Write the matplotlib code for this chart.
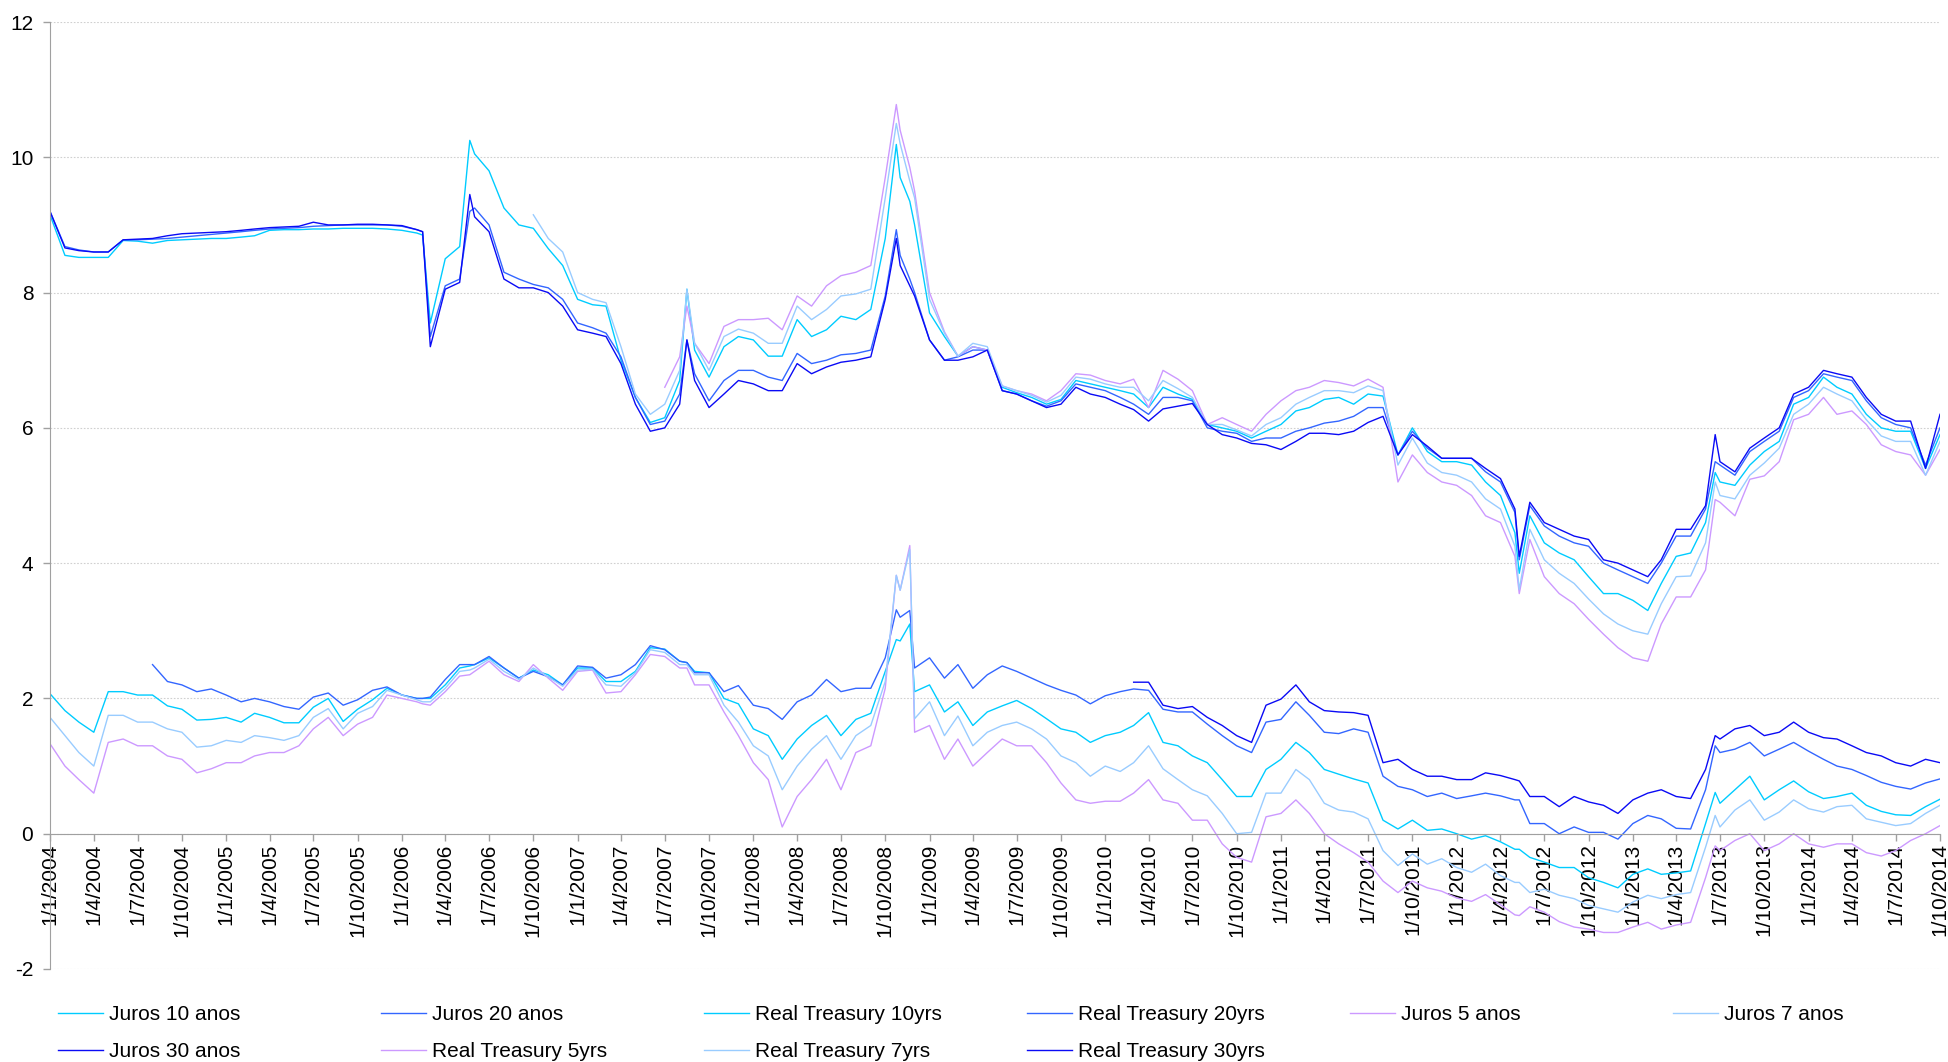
import numpy as np
import pandas as pd
import matplotlib
matplotlib.use("Agg")
import matplotlib.pyplot as plt
import matplotlib.dates as mdates
from matplotlib.ticker import FuncFormatter, MultipleLocator

nan = np.nan

# ---------------- data ----------------
# monthly readings, first of each month, Jan 2004 .. Oct 2014
month_starts = pd.date_range("2004-01-01", "2014-10-01", freq="MS")
# extra readings at short-lived spikes / dips
event_dates = pd.to_datetime(["2006-02-13", "2006-05-22", "2007-08-16", "2008-10-24",
                              "2008-11-21", "2012-05-10", "2013-06-21"])

juros_30 = [9.20, 8.66, 8.62, 8.60, 8.60, 8.78, 8.79, 8.80, 8.84, 8.87, 8.88, 8.89,
            8.90, 8.92, 8.94, 8.96, 8.97, 8.98, 9.04, 9.00, 9.00, 9.01, 9.01, 9.00,
            8.99, 8.93, 7.20, 8.05, 8.15, 9.12, 8.90, 8.20, 8.07, 8.07, 8.00, 7.80,
            7.45, 7.40, 7.35, 6.95, 6.35, 5.95, 6.00, 6.35, 6.70, 6.30, 6.50, 6.70,
            6.65, 6.55, 6.55, 6.95, 6.80, 6.90, 6.97, 7.00, 7.05, 7.90, 8.40, 7.95,
            7.30, 7.00, 7.00, 7.05, 7.15, 6.55, 6.50, 6.40, 6.30, 6.35, 6.60, 6.50,
            6.45, 6.35, 6.27, 6.10, 6.28, 6.32, 6.36, 6.05, 5.90, 5.85, 5.77, 5.75,
            5.68, 5.80, 5.92, 5.92, 5.90, 5.95, 6.08, 6.17, 5.60, 5.90, 5.73, 5.55,
            5.55, 5.55, 5.40, 5.25, 4.80, 4.90, 4.60, 4.50, 4.40, 4.35, 4.05, 4.00,
            3.90, 3.80, 4.05, 4.50, 4.50, 4.85, 5.50, 5.35, 5.70, 5.85, 6.00, 6.50,
            6.60, 6.85, 6.80, 6.75, 6.45, 6.20, 6.10, 6.10, 5.40, 6.20]
juros_30_ev = [8.90, 9.45, 7.30, 8.80, 8.10, 4.10, 5.90]

juros_20 = [9.20, 8.68, 8.63, 8.60, 8.60, 8.78, 8.78, 8.79, 8.80, 8.82, 8.84, 8.86,
            8.88, 8.90, 8.92, 8.94, 8.95, 8.96, 8.98, 8.99, 9.00, 9.00, 9.00, 9.00,
            8.98, 8.93, 7.35, 8.10, 8.20, 9.25, 9.00, 8.30, 8.20, 8.12, 8.07, 7.90,
            7.55, 7.48, 7.40, 7.05, 6.45, 6.05, 6.10, 6.50, 6.80, 6.40, 6.70, 6.85,
            6.85, 6.75, 6.70, 7.10, 6.95, 7.00, 7.08, 7.10, 7.15, 7.95, 8.55, 8.00,
            7.30, 7.00, 7.05, 7.15, 7.15, 6.55, 6.50, 6.40, 6.32, 6.40, 6.65, 6.60,
            6.55, 6.45, 6.35, 6.20, 6.45, 6.45, 6.40, 6.00, 5.95, 5.92, 5.80, 5.85,
            5.85, 5.95, 6.00, 6.07, 6.10, 6.17, 6.30, 6.30, 5.60, 5.95, 5.70, 5.55,
            5.55, 5.55, 5.35, 5.20, 4.75, 4.85, 4.55, 4.40, 4.30, 4.25, 4.00, 3.90,
            3.80, 3.70, 4.00, 4.40, 4.40, 4.80, 5.45, 5.30, 5.65, 5.80, 5.95, 6.45,
            6.55, 6.80, 6.75, 6.70, 6.40, 6.15, 6.05, 6.00, 5.45, 6.00]
juros_20_ev = [8.90, 9.20, 7.30, 8.93, 8.20, 4.05, 5.50]

juros_10 = [9.15, 8.55, 8.52, 8.52, 8.52, 8.77, 8.76, 8.73, 8.77, 8.78, 8.79, 8.80,
            8.80, 8.82, 8.84, 8.92, 8.93, 8.93, 8.94, 8.94, 8.95, 8.95, 8.95, 8.94,
            8.92, 8.88, 7.55, 8.50, 8.68, 10.05, 9.80, 9.25, 9.00, 8.95, 8.65, 8.40,
            7.90, 7.82, 7.80, 7.00, 6.45, 6.08, 6.15, 6.70, 7.15, 6.75, 7.20, 7.35,
            7.30, 7.06, 7.06, 7.60, 7.35, 7.45, 7.65, 7.60, 7.75, 8.80, 9.70, 9.00,
            7.70, 7.35, 7.06, 7.20, 7.15, 6.60, 6.52, 6.45, 6.35, 6.42, 6.70, 6.65,
            6.60, 6.55, 6.50, 6.30, 6.60, 6.50, 6.42, 6.05, 6.00, 5.95, 5.85, 5.95,
            6.05, 6.25, 6.30, 6.42, 6.45, 6.35, 6.50, 6.47, 5.60, 6.00, 5.65, 5.50,
            5.50, 5.45, 5.20, 5.00, 4.45, 4.70, 4.30, 4.15, 4.05, 3.80, 3.55, 3.55,
            3.45, 3.30, 3.70, 4.10, 4.15, 4.60, 5.20, 5.15, 5.45, 5.65, 5.80, 6.35,
            6.45, 6.75, 6.60, 6.50, 6.20, 6.00, 5.95, 5.95, 5.40, 5.90]
juros_10_ev = [8.85, 10.25, 8.05, 10.19, 9.35, 3.85, 5.34]

juros_7 = [nan] * 33 + [
            9.15, 8.80, 8.60,
            8.00, 7.90, 7.85, 7.20, 6.50, 6.20, 6.35, 6.85, 7.25, 6.85, 7.35, 7.46,
            7.40, 7.25, 7.25, 7.80, 7.60, 7.75, 7.95, 7.98, 8.05, 9.40, 10.20, 9.40,
            7.90, 7.40, 7.06, 7.25, 7.20, 6.62, 6.55, 6.48, 6.38, 6.48, 6.75, 6.72,
            6.65, 6.60, 6.60, 6.40, 6.70, 6.58, 6.45, 6.05, 6.05, 5.97, 5.88, 6.05,
            6.15, 6.35, 6.45, 6.55, 6.55, 6.52, 6.62, 6.55, 5.45, 5.85, 5.48, 5.34,
            5.30, 5.20, 4.95, 4.80, 4.25, 4.50, 4.05, 3.85, 3.70, 3.47, 3.25, 3.10,
            3.00, 2.95, 3.40, 3.80, 3.81, 4.30, 5.00, 4.95, 5.30, 5.48, 5.70, 6.20,
            6.35, 6.60, 6.50, 6.40, 6.12, 5.88, 5.80, 5.80, 5.30, 5.80]
juros_7_ev = [nan, nan, 8.05, 10.50, 9.65, 3.61, 5.20]

juros_5 = [nan] * 42 + [
            6.60, 7.05, 7.25, 6.95, 7.50, 7.60,
            7.60, 7.62, 7.45, 7.95, 7.80, 8.10, 8.25, 8.30, 8.40, 9.70, 10.40, 9.50,
            8.00, 7.42, 7.06, 7.20, 7.15, 6.62, 6.55, 6.50, 6.40, 6.55, 6.80, 6.78,
            6.70, 6.65, 6.72, 6.30, 6.85, 6.72, 6.55, 6.05, 6.15, 6.05, 5.95, 6.20,
            6.40, 6.55, 6.60, 6.70, 6.67, 6.62, 6.72, 6.60, 5.20, 5.60, 5.34, 5.20,
            5.15, 5.00, 4.70, 4.60, 4.10, 4.35, 3.80, 3.55, 3.40, 3.17, 2.95, 2.75,
            2.60, 2.55, 3.10, 3.50, 3.50, 3.90, 4.90, 4.70, 5.24, 5.29, 5.50, 6.12,
            6.20, 6.45, 6.20, 6.25, 6.05, 5.75, 5.65, 5.60, 5.30, 5.68]
juros_5_ev = [nan, nan, 7.80, 10.78, 9.85, 3.55, 4.94]

rt_10 = [2.07, 1.82, 1.65, 1.50, 2.10, 2.10, 2.05, 2.05, 1.89, 1.84, 1.68, 1.69,
         1.72, 1.65, 1.78, 1.72, 1.64, 1.64, 1.87, 2.00, 1.66, 1.84, 1.98, 2.15,
         2.05, 2.00, 2.00, 2.20, 2.45, 2.50, 2.60, 2.45, 2.30, 2.42, 2.35, 2.20,
         2.45, 2.45, 2.25, 2.25, 2.40, 2.75, 2.73, 2.55, 2.40, 2.38, 2.00, 1.92,
         1.55, 1.45, 1.10, 1.40, 1.60, 1.75, 1.45, 1.69, 1.78, 2.40, 2.85, 2.10,
         2.20, 1.80, 1.95, 1.60, 1.80, 1.89, 1.97, 1.85, 1.70, 1.55, 1.50, 1.35,
         1.45, 1.50, 1.60, 1.79, 1.35, 1.30, 1.15, 1.05, 0.80, 0.55, 0.55, 0.95,
         1.10, 1.35, 1.20, 0.95, 0.88, 0.81, 0.75, 0.20, 0.07, 0.20, 0.05, 0.07,
         0.00, -0.08, -0.03, -0.12, -0.23, -0.35, -0.42, -0.50, -0.50, -0.65, -0.72, -0.80,
         -0.60, -0.52, -0.60, -0.58, -0.55, 0.15, 0.45, 0.65, 0.85, 0.50, 0.65, 0.78,
         0.62, 0.52, 0.55, 0.60, 0.42, 0.33, 0.28, 0.27, 0.40, 0.51]
rt_10_ev = [2.00, 2.48, 2.53, 2.87, 3.10, -0.23, 0.61]

rt_7 = [1.72, 1.45, 1.20, 1.00, 1.75, 1.75, 1.65, 1.65, 1.55, 1.50, 1.28, 1.30,
        1.38, 1.35, 1.45, 1.42, 1.38, 1.45, 1.72, 1.85, 1.55, 1.78, 1.88, 2.12,
        2.05, 1.98, 1.95, 2.15, 2.40, 2.45, 2.58, 2.40, 2.28, 2.45, 2.32, 2.18,
        2.42, 2.43, 2.20, 2.18, 2.38, 2.72, 2.68, 2.50, 2.35, 2.35, 1.90, 1.65,
        1.30, 1.15, 0.65, 1.00, 1.25, 1.45, 1.10, 1.45, 1.60, 2.25, 3.60, 1.70,
        1.95, 1.45, 1.74, 1.30, 1.50, 1.60, 1.65, 1.55, 1.40, 1.15, 1.05, 0.85,
        1.00, 0.92, 1.05, 1.30, 0.96, 0.80, 0.65, 0.56, 0.30, 0.00, 0.02, 0.60,
        0.60, 0.95, 0.80, 0.45, 0.35, 0.32, 0.22, -0.25, -0.47, -0.30, -0.45, -0.37,
        -0.50, -0.57, -0.45, -0.62, -0.72, -0.87, -0.82, -0.91, -0.96, -1.06, -1.11, -1.16,
        -1.01, -0.91, -0.96, -0.90, -0.87, -0.20, 0.10, 0.35, 0.50, 0.20, 0.32, 0.50,
        0.37, 0.32, 0.40, 0.42, 0.22, 0.17, 0.12, 0.15, 0.30, 0.42]
rt_7_ev = [1.95, 2.42, 2.50, 3.82, 4.20, -0.72, 0.27]

rt_5 = [1.33, 1.00, 0.80, 0.60, 1.35, 1.40, 1.30, 1.30, 1.15, 1.10, 0.90, 0.96,
        1.05, 1.05, 1.15, 1.20, 1.20, 1.30, 1.55, 1.72, 1.45, 1.62, 1.72, 2.05,
        2.00, 1.95, 1.90, 2.10, 2.33, 2.40, 2.55, 2.35, 2.25, 2.50, 2.30, 2.12,
        2.40, 2.42, 2.08, 2.10, 2.35, 2.65, 2.62, 2.45, 2.20, 2.20, 1.80, 1.45,
        1.05, 0.80, 0.10, 0.55, 0.80, 1.10, 0.65, 1.20, 1.30, 2.15, 3.60, 1.50,
        1.60, 1.10, 1.40, 1.00, 1.20, 1.40, 1.30, 1.30, 1.05, 0.75, 0.50, 0.45,
        0.48, 0.48, 0.60, 0.80, 0.50, 0.45, 0.20, 0.20, -0.15, -0.35, -0.42, 0.25,
        0.30, 0.50, 0.30, 0.00, -0.15, -0.28, -0.42, -0.70, -0.87, -0.70, -0.80, -0.85,
        -0.95, -1.00, -0.90, -1.05, -1.20, -1.08, -1.16, -1.30, -1.38, -1.41, -1.46, -1.46,
        -1.38, -1.31, -1.41, -1.35, -1.31, -0.65, -0.25, -0.10, 0.00, -0.25, -0.15, 0.00,
        -0.15, -0.20, -0.15, -0.15, -0.28, -0.33, -0.25, -0.10, 0.00, 0.12]
rt_5_ev = [1.92, 2.35, 2.45, 3.82, 4.26, -1.21, -0.18]

rt_20 = [nan] * 7 + [
         2.50, 2.25, 2.20, 2.10, 2.14,
         2.05, 1.95, 2.00, 1.95, 1.88, 1.84, 2.02, 2.08, 1.90, 1.98, 2.12, 2.17,
         2.05, 2.00, 2.02, 2.28, 2.50, 2.50, 2.62, 2.45, 2.30, 2.40, 2.32, 2.20,
         2.48, 2.46, 2.30, 2.35, 2.50, 2.78, 2.72, 2.55, 2.38, 2.38, 2.10, 2.19,
         1.90, 1.85, 1.69, 1.95, 2.05, 2.28, 2.10, 2.15, 2.15, 2.60, 3.20, 2.45,
         2.60, 2.30, 2.50, 2.15, 2.35, 2.48, 2.40, 2.30, 2.20, 2.12, 2.05, 1.92,
         2.04, 2.10, 2.14, 2.12, 1.84, 1.80, 1.80, 1.62, 1.45, 1.30, 1.20, 1.65,
         1.69, 1.95, 1.75, 1.50, 1.48, 1.55, 1.50, 0.85, 0.70, 0.65, 0.55, 0.60,
         0.52, 0.56, 0.60, 0.56, 0.50, 0.15, 0.15, 0.00, 0.10, 0.02, 0.02, -0.08,
         0.15, 0.27, 0.22, 0.08, 0.07, 0.65, 1.20, 1.25, 1.35, 1.15, 1.25, 1.35,
         1.22, 1.10, 1.00, 0.95, 0.86, 0.76, 0.70, 0.66, 0.75, 0.81]
rt_20_ev = [2.00, 2.50, 2.53, 3.31, 3.30, 0.50, 1.30]

rt_30 = [nan] * 74 + [
         2.24, 2.24, 1.90, 1.85, 1.88, 1.72, 1.60, 1.45, 1.35, 1.90,
         1.99, 2.20, 1.95, 1.82, 1.80, 1.79, 1.75, 1.05, 1.10, 0.95, 0.85, 0.85,
         0.80, 0.80, 0.90, 0.86, 0.80, 0.55, 0.55, 0.40, 0.55, 0.47, 0.42, 0.30,
         0.50, 0.60, 0.65, 0.55, 0.52, 0.95, 1.40, 1.55, 1.60, 1.45, 1.50, 1.65,
         1.50, 1.42, 1.40, 1.30, 1.20, 1.15, 1.05, 1.00, 1.10, 1.05]
rt_30_ev = [nan, nan, nan, nan, nan, 0.78, 1.45]

labels = ["Juros 10 anos", "Juros 20 anos", "Real Treasury 10yrs", "Real Treasury 20yrs",
          "Juros 5 anos", "Juros 7 anos", "Juros 30 anos", "Real Treasury 5yrs",
          "Real Treasury 7yrs", "Real Treasury 30yrs"]
monthly = [juros_10, juros_20, rt_10, rt_20, juros_5, juros_7, juros_30, rt_5, rt_7, rt_30]
events = [juros_10_ev, juros_20_ev, rt_10_ev, rt_20_ev, juros_5_ev, juros_7_ev,
          juros_30_ev, rt_5_ev, rt_7_ev, rt_30_ev]

C10, C20, C30, C5, C7 = "#00CCFF", "#3366FF", "#0A0AF5", "#CC99FF", "#99CCFF"
colors = [C10, C20, C10, C20, C5, C7, C30, C5, C7, C30]

# ---------------- figure ----------------
plt.rcParams["font.family"] = ["Liberation Sans", "DejaVu Sans"]
plt.rcParams["axes.unicode_minus"] = False
fig = plt.figure(figsize=(19.48, 10.62), dpi=100)
ax = fig.add_axes([50 / 1948, 93 / 1062, 1890 / 1948, 947 / 1062])

all_dates = month_starts.append(event_dates)
handles = {}
for lab, mv, ev, col in zip(labels, monthly, events, colors):
    s = pd.Series(np.r_[np.array(mv, float), np.array(ev, float)], index=all_dates).sort_index()
    s = s.dropna()
    (ln,) = ax.plot(s.index, s.values, color=col, lw=1.0, label=lab)
    handles[lab] = ln

ax.set_ylim(-2, 12)
ax.set_xlim(pd.Timestamp("2004-01-01"), pd.Timestamp("2014-10-01"))
ax.yaxis.set_major_locator(MultipleLocator(2))
ax.xaxis.set_major_locator(mdates.MonthLocator(bymonth=[1, 4, 7, 10], bymonthday=1))


def fmt_date(v, pos):
    d = mdates.num2date(v)
    return f"{d.day}/{d.month}/{d.year}"


ax.xaxis.set_major_formatter(FuncFormatter(fmt_date))
ax.tick_params(axis="x", labelrotation=90, labelsize=15, length=5, width=1,
               color="#a0a0a0", pad=2, direction="out")
ax.tick_params(axis="y", labelsize=15, length=5, width=1, color="#a0a0a0", pad=7)

ax.grid(axis="y", color="#d0d0d0", lw=0.8, linestyle=(0, (1.5, 1.5)))
ax.set_axisbelow(True)
for side in ("top", "right"):
    ax.spines[side].set_visible(False)
ax.spines["bottom"].set_position(("data", 0))
ax.spines["bottom"].set_color("#a0a0a0")
ax.spines["left"].set_color("#a0a0a0")

# legend: six equally spaced columns, two rows
cols = [["Juros 10 anos", "Juros 30 anos"],
        ["Juros 20 anos", "Real Treasury 5yrs"],
        ["Real Treasury 10yrs", "Real Treasury 7yrs"],
        ["Real Treasury 20yrs", "Real Treasury 30yrs"],
        ["Juros 5 anos"],
        ["Juros 7 anos"]]
for i, col in enumerate(cols):
    fig.legend([handles[c] for c in col], col, loc="upper left",
               bbox_to_anchor=(58 / 1948 + i * 323 / 1948, 1 - 1005 / 1062),
               frameon=False, fontsize=15, handlelength=2.16, handletextpad=0.3,
               labelspacing=0.86, borderpad=0, borderaxespad=0)

fig.savefig("out.png", dpi=100)
